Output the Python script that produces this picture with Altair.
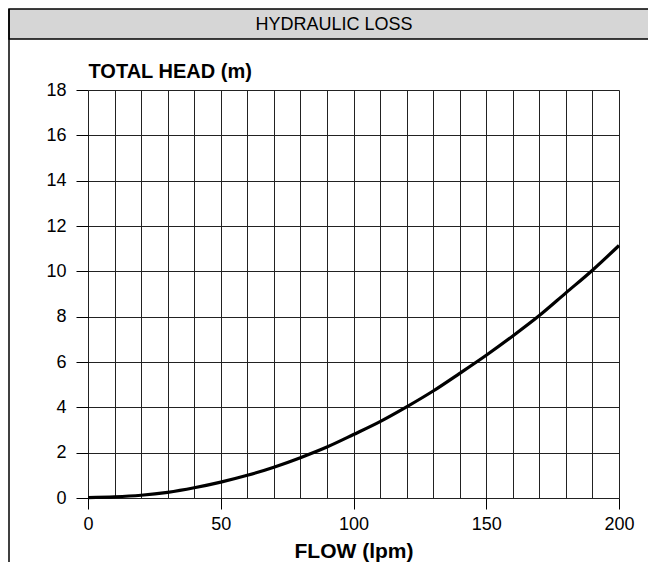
import altair as alt
import pandas as pd

# Data
flow = [0, 10, 20, 30, 40, 50, 60, 70, 80, 90, 100, 110, 120, 130, 140, 150, 160, 170, 180, 190, 200]
head = [0.02, 0.05, 0.12, 0.25, 0.45, 0.70, 1.00, 1.36, 1.78, 2.25, 2.80, 3.37, 4.02, 4.72, 5.50, 6.30, 7.15, 8.05, 9.05, 10.05, 11.14]
x_ticks = list(range(0, 201, 10))
y_ticks = list(range(0, 19, 2))
header_text = "HYDRAULIC LOSS"
x_title = "FLOW (lpm)"
y_title = "TOTAL HEAD (m)"

df = pd.DataFrame({"flow": flow, "head": head})

REG = "Liberation Sans"
COND = "Liberation Sans Narrow, Liberation Sans"

W, H = 531, 408

x_enc = alt.X(
    "flow:Q",
    scale=alt.Scale(domain=[0, 200], nice=False, zero=False),
    axis=alt.Axis(
        values=x_ticks,
        grid=True,
        domain=False,
        tickSize=11,
        tickColor="#000",
        tickOpacity={"condition": {"test": "datum.value % 50 === 0", "value": 1}, "value": 0},
        labelExpr="datum.value % 50 === 0 ? datum.label : ''",
        labelOverlap=False,
        labelFlush=False,
        labelFont=REG,
        labelFontSize=18,
        labelColor="#000",
        labelPadding=6,
        title=x_title,
        titleFont=COND,
        titleFontSize=21,
        titleFontWeight="bold",
        titleColor="#000",
        titlePadding=7,
    ),
)
y_enc = alt.Y(
    "head:Q",
    scale=alt.Scale(domain=[0, 18], nice=False),
    axis=alt.Axis(
        values=y_ticks,
        grid=True,
        domain=False,
        tickSize=12,
        tickColor="#000",
        labelFont=REG,
        labelFontSize=18,
        labelColor="#000",
        labelPadding=10,
        title=y_title,
        titleFont=COND,
        titleFontSize=20,
        titleFontWeight="bold",
        titleColor="#000",
        titleAngle=0,
        titleAlign="left",
        titleBaseline="alphabetic",
        titleX=0,
        titleY=-13,
    ),
)

line = alt.Chart(df).mark_line(color="#000", strokeWidth=3.2, interpolate="monotone").encode(
    x=x_enc, y=y_enc
)

one = alt.Data(values=[{"a": 1}])

header_box = alt.Chart(one).mark_rect(fill="#d6d6d6", stroke="#000", strokeWidth=1.5).encode(
    x=alt.value(-79), x2=alt.value(600), y=alt.value(-81), y2=alt.value(-51)
)
left_border = alt.Chart(one).mark_rule(color="#000", strokeWidth=1.5).encode(
    x=alt.value(-79), y=alt.value(-81), y2=alt.value(480)
)
header = alt.Chart(one).mark_text(
    text=header_text, font=REG, fontSize=18, color="#000", align="center", baseline="middle"
).encode(x=alt.value(246), y=alt.value(-65))

chart = alt.layer(header_box, left_border, header, line).properties(
    width=W,
    height=H,
    autosize=alt.AutoSizeParams(type="none"),
    padding={"left": 80, "top": 82, "right": 29, "bottom": 64},
).configure_view(strokeWidth=0).configure_axis(
    gridColor="#222", gridWidth=1, gridOpacity=1
)

chart.save("out.html", embed_options={"renderer": "svg", "actions": False})
